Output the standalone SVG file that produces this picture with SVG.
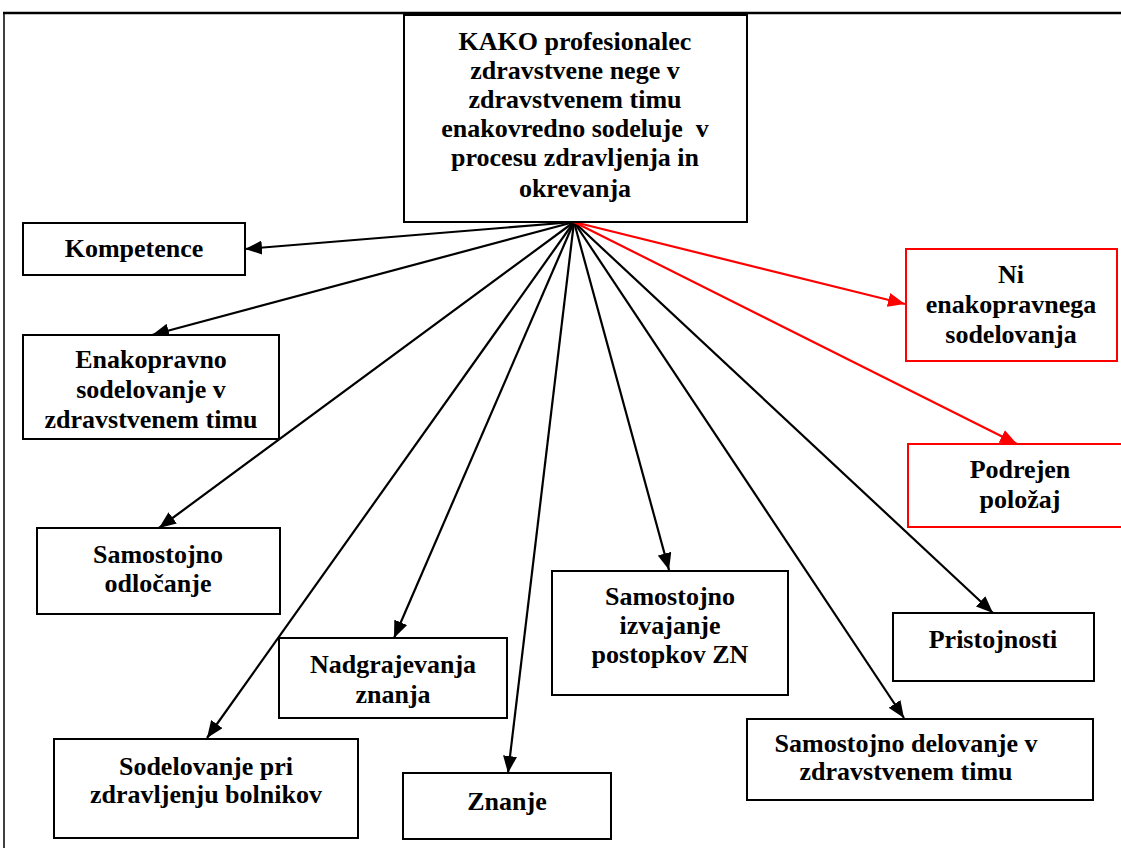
<svg xmlns="http://www.w3.org/2000/svg" width="1121" height="848" viewBox="0 0 1121 848">
  <style>
    .box { fill: #fff; stroke: #000; stroke-width: 2; }
    .rbox { fill: #fff; stroke: #f00; stroke-width: 2; }
    text { font-family: 'Liberation Serif', 'DejaVu Serif', serif; font-weight: 700; font-size: 26px; text-anchor: middle; fill: #000; }
    .c { fill: none; stroke: #000; stroke-width: 2.2; }
    .cr { fill: none; stroke: #f00; stroke-width: 2.2; }
  </style>
  <defs>
    <marker id="ah" markerUnits="userSpaceOnUse" markerWidth="18" markerHeight="14" refX="17" refY="7" orient="auto">
      <path d="M0,0 L17,7 L0,14 z" fill="#000"/>
    </marker>
    <marker id="ahr" markerUnits="userSpaceOnUse" markerWidth="18" markerHeight="14" refX="17" refY="7" orient="auto">
      <path d="M0,0 L17,7 L0,14 z" fill="#f00"/>
    </marker>
  </defs>

  <rect width="1121" height="848" fill="#fff"/>

  <!-- page frame -->
  <g id="frame">
    <line x1="3" y1="13" x2="1121" y2="13" stroke="#000" stroke-width="2.5"/>
    <line x1="4" y1="12" x2="4" y2="848" stroke="#000" stroke-width="1.5"/>
  </g>

  <!-- connectors from the central question -->
  <g id="connectors">
    <line class="c" x1="574" y1="222" x2="245" y2="249" marker-end="url(#ah)"/>
    <line class="c" x1="574" y1="222" x2="152" y2="335" marker-end="url(#ah)"/>
    <line class="c" x1="574" y1="222" x2="159" y2="528" marker-end="url(#ah)"/>
    <line class="c" x1="574" y1="222" x2="394" y2="638" marker-end="url(#ah)"/>
    <line class="c" x1="574" y1="222" x2="207" y2="738" marker-end="url(#ah)"/>
    <line class="c" x1="574" y1="222" x2="508" y2="773" marker-end="url(#ah)"/>
    <line class="c" x1="574" y1="222" x2="669" y2="570" marker-end="url(#ah)"/>
    <line class="c" x1="574" y1="222" x2="904" y2="718" marker-end="url(#ah)"/>
    <line class="c" x1="574" y1="222" x2="993" y2="613" marker-end="url(#ah)"/>
    <line class="cr" x1="574" y1="222" x2="905" y2="304" marker-end="url(#ahr)"/>
    <line class="cr" x1="574" y1="222" x2="1017" y2="444" marker-end="url(#ahr)"/>
  </g>

  <g id="central">
    <rect class="box" x="404" y="15" width="343" height="207"/>
    <text x="575" y="50">KAKO profesionalec</text>
    <text x="575" y="79">zdravstvene nege v</text>
    <text x="575" y="108">zdravstvenem timu</text>
    <text x="575" y="137" xml:space="preserve">enakovredno sodeluje  v</text>
    <text x="575" y="166">procesu zdravljenja in</text>
    <text x="575" y="197">okrevanja</text>
  </g>

  <g id="kompetence">
    <rect class="box" x="23" y="223" width="222" height="52"/>
    <text x="134" y="257">Kompetence</text>
  </g>

  <g id="enakopravno">
    <rect class="box" x="23" y="335" width="256" height="104"/>
    <text x="151" y="368">Enakopravno</text>
    <text x="151" y="398">sodelovanje v</text>
    <text x="151" y="428">zdravstvenem timu</text>
  </g>

  <g id="odlocanje">
    <rect class="box" x="37" y="528" width="243" height="86"/>
    <text x="158" y="563">Samostojno</text>
    <text x="158" y="592">odločanje</text>
  </g>

  <g id="nadgrajevanja">
    <rect class="box" x="279" y="638" width="228" height="80"/>
    <text x="393" y="673">Nadgrajevanja</text>
    <text x="393" y="703">znanja</text>
  </g>

  <g id="sodelovanje">
    <rect class="box" x="54" y="739" width="304" height="99"/>
    <text x="206" y="775">Sodelovanje pri</text>
    <text x="206" y="803">zdravljenju bolnikov</text>
  </g>

  <g id="znanje">
    <rect class="box" x="403" y="773" width="208" height="66"/>
    <text x="507" y="810">Znanje</text>
  </g>

  <g id="izvajanje">
    <rect class="box" x="552" y="571" width="236" height="124"/>
    <text x="670" y="605">Samostojno</text>
    <text x="670" y="634">izvajanje</text>
    <text x="670" y="663">postopkov ZN</text>
  </g>

  <g id="pristojnosti">
    <rect class="box" x="893" y="613" width="201" height="68"/>
    <text x="993" y="648">Pristojnosti</text>
  </g>

  <g id="delovanje">
    <rect class="box" x="747" y="719" width="346" height="81"/>
    <text x="906" y="752">Samostojno delovanje v</text>
    <text x="906" y="780">zdravstvenem timu</text>
  </g>

  <g id="ni-enakopravnega">
    <rect class="rbox" x="906" y="249" width="211" height="112"/>
    <text x="1011" y="283">Ni</text>
    <text x="1011" y="313">enakopravnega</text>
    <text x="1011" y="343">sodelovanja</text>
  </g>

  <g id="podrejen">
    <rect class="rbox" x="908" y="444" width="224" height="83"/>
    <text x="1020" y="478">Podrejen</text>
    <text x="1020" y="508">položaj</text>
  </g>
</svg>
